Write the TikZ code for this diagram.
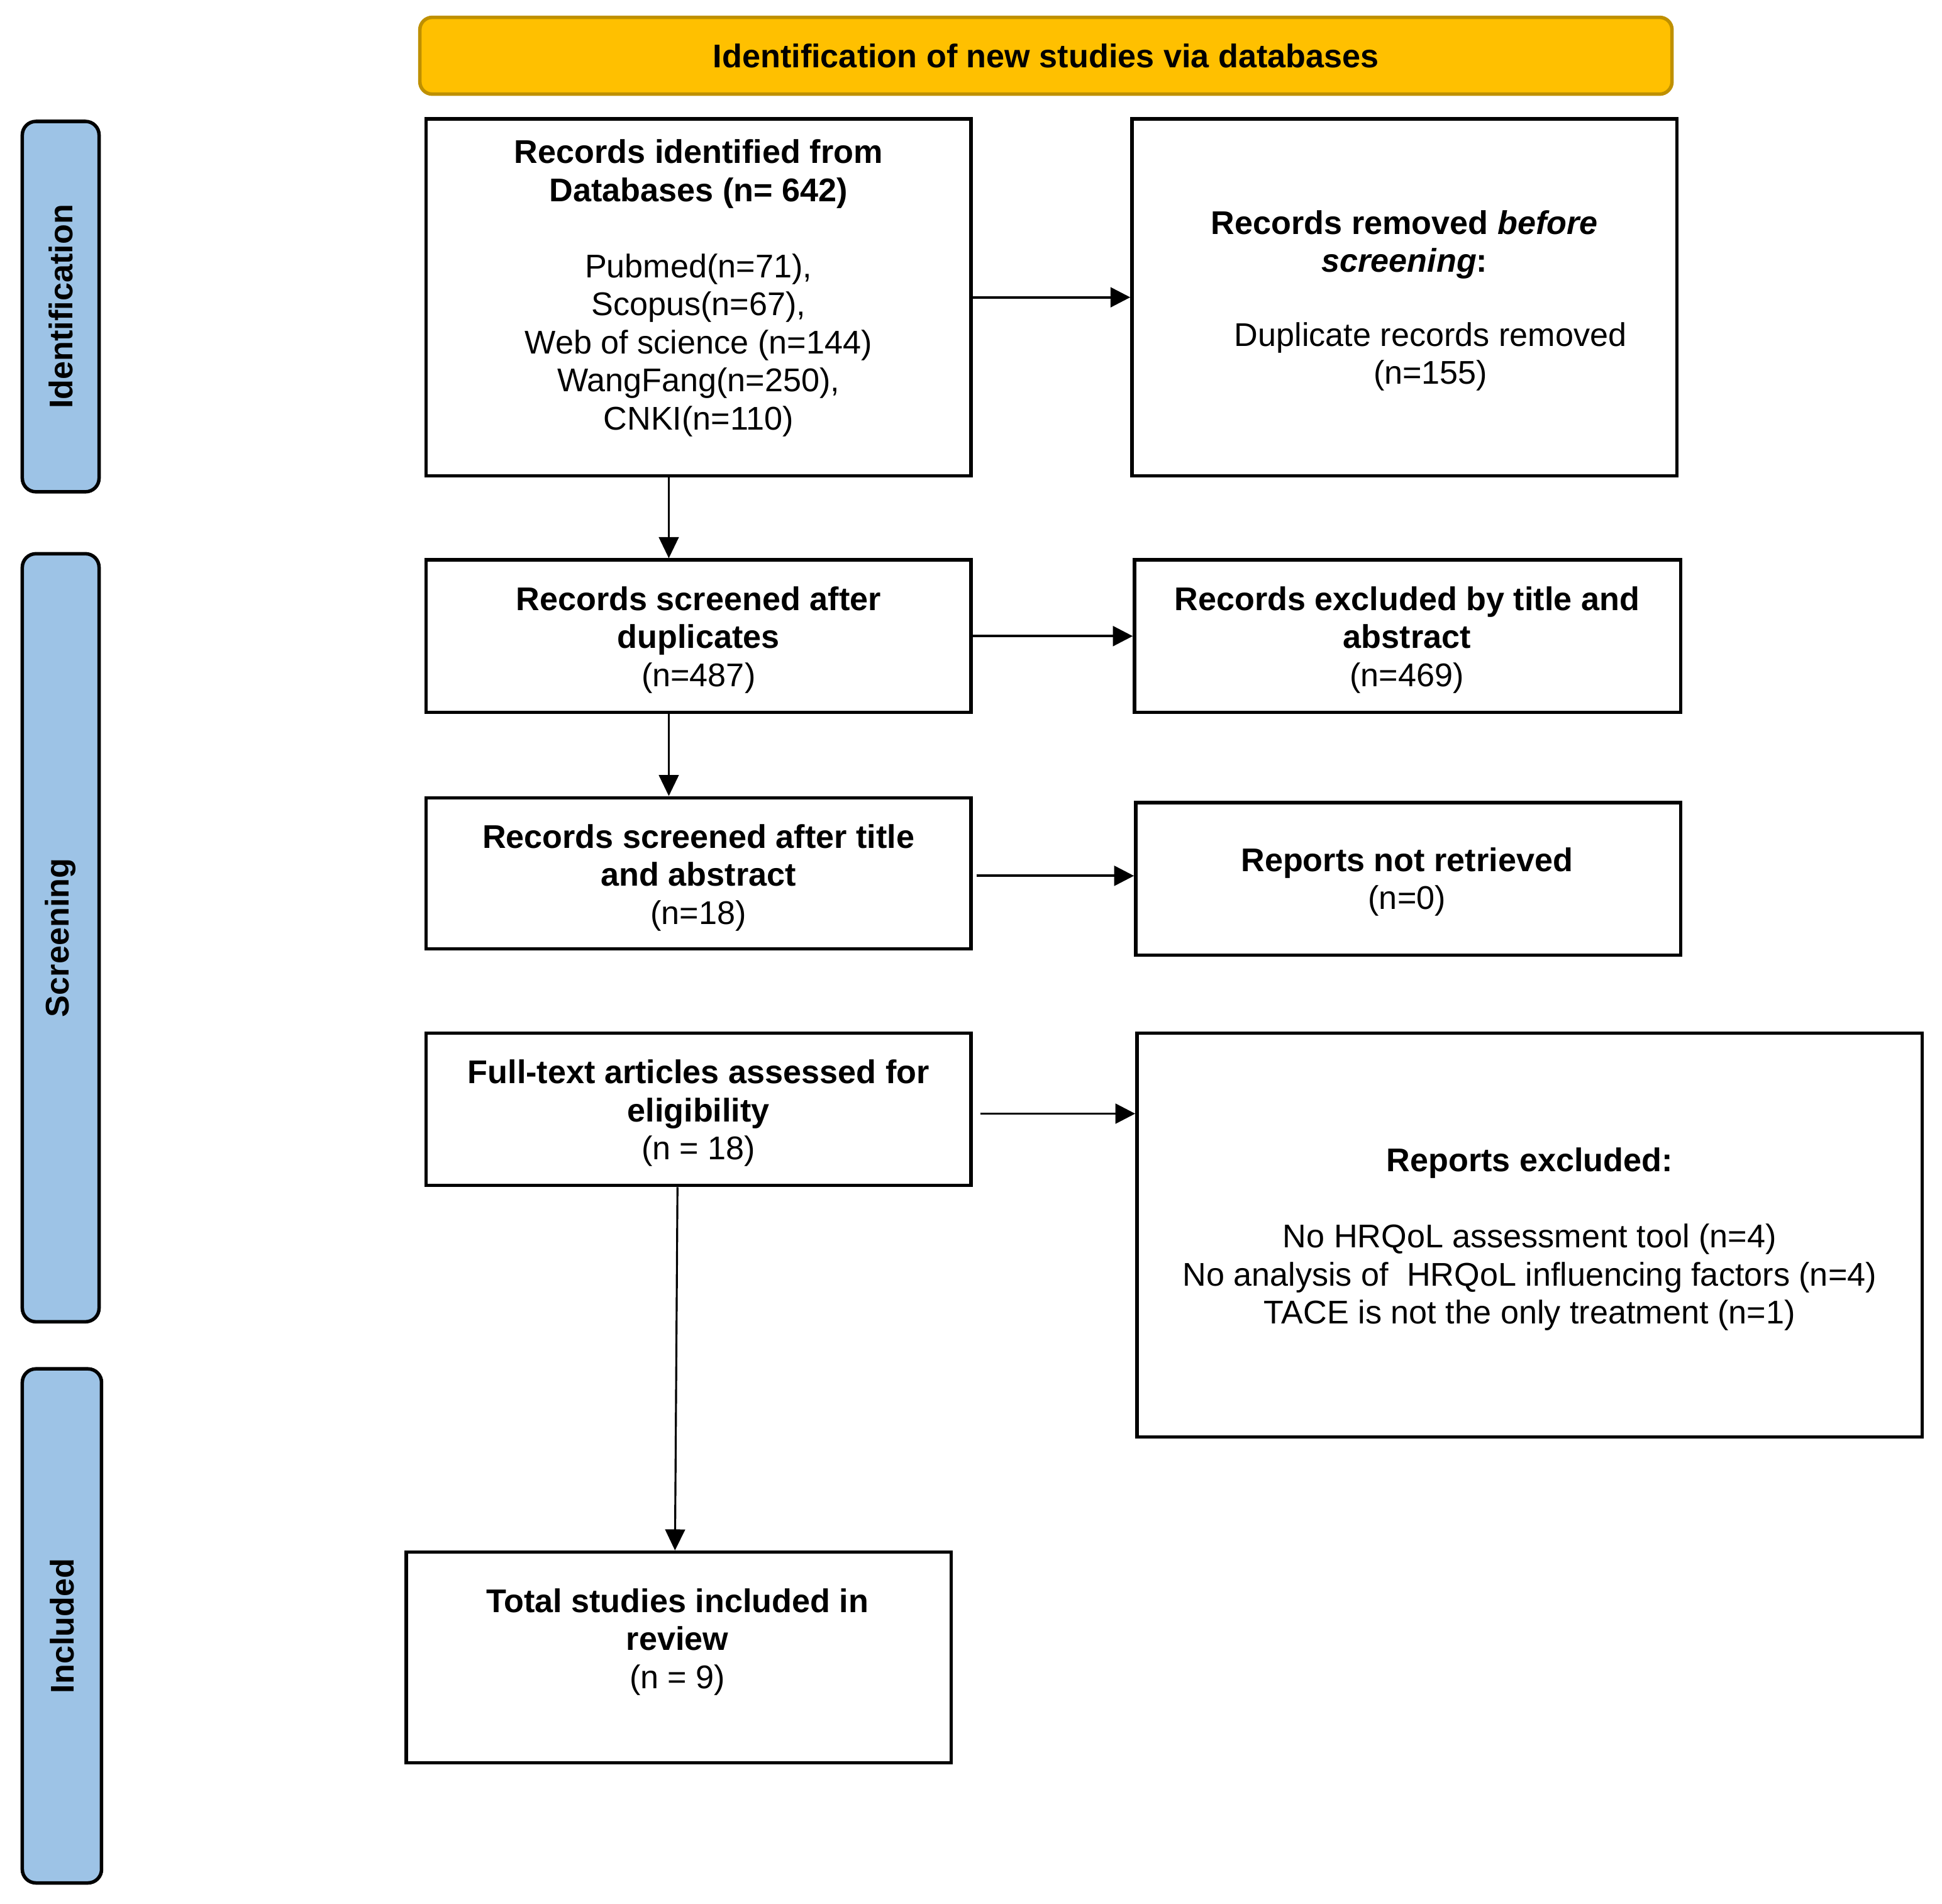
\documentclass[tikz,border=0pt]{standalone}
\usepackage{fontspec}
\setmainfont{Liberation Sans}
\usetikzlibrary{arrows.meta,calc}
\definecolor{gold}{HTML}{FFC000}
\definecolor{goldline}{HTML}{BF9000}
\definecolor{sideblue}{HTML}{9DC3E6}
\begin{document}
\begin{tikzpicture}[x=1pt,y=-1pt,
  every node/.style={font=\fontsize{26.5pt}{30.7pt}\selectfont, inner sep=0pt},
  box/.style={draw=black, line width=2.8pt, fill=white},
  txt/.style={align=center},
  side/.style={draw=black, line width=2.8pt, fill=sideblue, rounded corners=11pt, rotate=90, font=\fontsize{26.5pt}{30.7pt}\selectfont\bfseries},
  arr/.style={line width=2pt, -{Triangle[length=16pt,width=16pt]}},
  varr/.style={line width=1.6pt, -{Triangle[length=17pt,width=16pt]}},
]
\useasboundingbox (0,0) rectangle (1568,1537);

% title
\node[draw=goldline, fill=gold, line width=2.8pt, rounded corners=10pt, minimum width=1011pt, minimum height=62pt, font=\fontsize{26.5pt}{30.7pt}\selectfont\bfseries] (title) at (844.5,45) {Identification of new studies via databases};

% side bars
\node[side, minimum width=299pt, minimum height=62pt] (sid) at (49,247.5) {Identification};
\node[side, minimum width=620pt, minimum height=62pt] (sscr) at (49,757) {Screening};
\node[side, minimum width=415pt, minimum height=64pt] (sinc) at (50,1312.5) {Included};

% boxes
\node[box, minimum width=440pt, minimum height=288pt] (b1) at (564,240) {};
\node[box, minimum width=440pt, minimum height=288pt] (b2) at (1134,240) {};
\node[box, minimum width=440pt, minimum height=123pt] (b3) at (564,513.5) {};
\node[box, minimum width=441pt, minimum height=123pt] (b4) at (1136.5,513.5) {};
\node[box, minimum width=440pt, minimum height=122pt] (b5) at (564,705) {};
\node[box, minimum width=440pt, minimum height=123pt] (b6) at (1137,709.5) {};
\node[box, minimum width=440pt, minimum height=123pt] (b7) at (564,895.5) {};
\node[box, minimum width=634pt, minimum height=326pt] (b8) at (1235,997) {};
\node[box, minimum width=440pt, minimum height=170pt] (b9) at (548,1338) {};

% texts
\node[txt] (t1) at (564,232.5) {\textbf{Records identified from}\\\textbf{Databases (n= 642)}\\[30.7pt]Pubmed(n=71),\\Scopus(n=67),\\Web of science (n=144)\\WangFang(n=250),\\CNKI(n=110)};
\node[txt] (t2a) at (1134,197.5) {\textbf{Records removed \textit{before}}\\\textbf{\textit{screening}:}};
\node[txt] (t2b) at (1155,288) {Duplicate records removed\\(n=155)};
\node[txt] (t3) at (564,516.5) {\textbf{Records screened after}\\\textbf{duplicates}\\(n=487)};
\node[txt] (t4) at (1136,516.5) {\textbf{Records excluded by title and}\\\textbf{abstract}\\(n=469)};
\node[txt] (t5) at (564,708.5) {\textbf{Records screened after title}\\\textbf{and abstract}\\(n=18)};
\node[txt] (t6) at (1136,712) {\textbf{Reports not retrieved}\\(n=0)};
\node[txt] (t7) at (564,898.5) {\textbf{Full-text articles assessed for}\\\textbf{eligibility}\\(n = 18)};
\node[txt] (t8) at (1235,1000.5) {\textbf{Reports excluded:}\\[30.7pt]No HRQoL assessment tool (n=4)\\No analysis of\ \ HRQoL influencing factors (n=4)\\TACE is not the only treatment (n=1)};
\node[txt] (t9) at (547,1325.5) {\textbf{Total studies included in}\\\textbf{review}\\(n = 9)};

% arrows
\draw[arr] (b1.east) -- (b2.west);
\draw[varr] ($(b1.south)+(-24,0)$) -- ($(b3.north)+(-24,0)$);
\draw[arr] (b3.east) -- (b4.west);
\draw[varr] ($(b3.south)+(-24,0)$) -- ($(b5.north)+(-24,0)$);
\coordinate (a56) at ($(b5.east)+(3,2)$);
\draw[arr] (a56) -- (a56 -| b6.west);
\coordinate (a78) at ($(b7.east)+(6,3.5)$);
\draw[arr] (a78) -- (a78 -| b8.west);
\draw[varr] ($(b7.south)+(-17,0)$) -- ($(b9.north)+(-3,0)$);
\end{tikzpicture}
\end{document}
